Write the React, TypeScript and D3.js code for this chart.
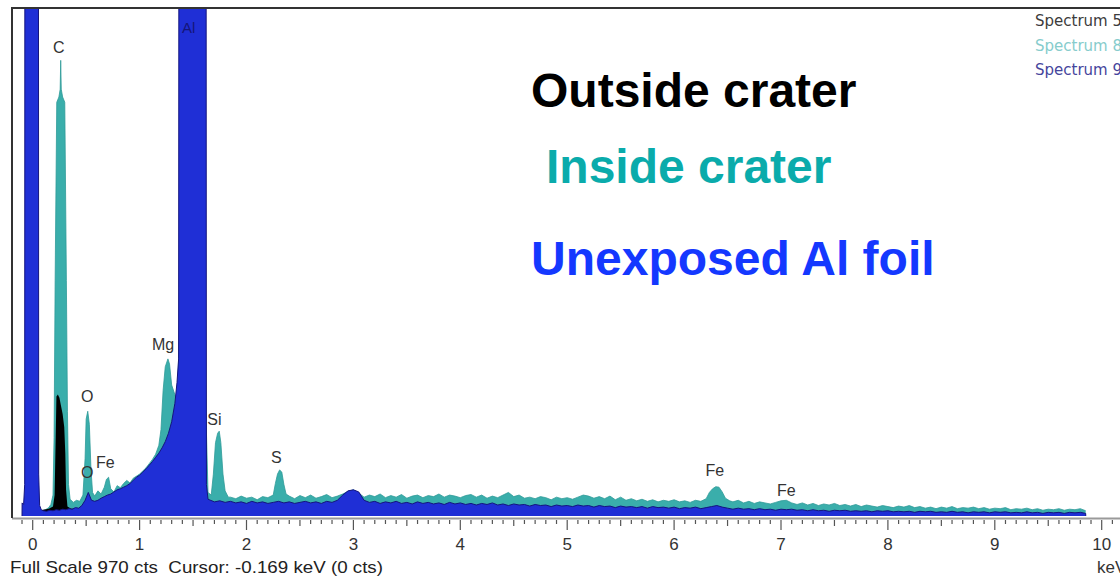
import React from 'react';
import * as d3 from 'd3';

const W = 1120;
const H = 576;

// x axis ticks (keV)
const majorTicks = [0, 1, 2, 3, 4, 5, 6, 7, 8, 9, 10];
const fullScaleCts = 970;

// Spectrum "Inside crater" (teal) : [keV, counts]
const insideCrater: [number, number][] = [
  [-0.09, 3], [-0.05, 10], [0.0, 15], [0.05, 12], [0.08, 10], [0.12, 12], [0.15, 16], [0.17, 22], [0.19, 40],
  [0.2, 150], [0.21, 450], [0.225, 790], [0.245, 800], [0.257, 815], [0.262, 870], [0.267, 815], [0.28, 800],
  [0.3, 790], [0.315, 450], [0.325, 200], [0.335, 60], [0.35, 32], [0.38, 26], [0.41, 30], [0.44, 28], [0.47, 40],
  [0.49, 110], [0.5, 185], [0.515, 200], [0.53, 175], [0.545, 90], [0.56, 45], [0.58, 38], [0.61, 48], [0.64, 42],
  [0.67, 55], [0.69, 70], [0.71, 74], [0.73, 52], [0.76, 46], [0.79, 58], [0.82, 54], [0.85, 62], [0.88, 68],
  [0.91, 63], [0.94, 72], [0.97, 76], [1.0, 80], [1.03, 86], [1.06, 92], [1.09, 100], [1.12, 108], [1.15, 118],
  [1.18, 135], [1.2, 165], [1.22, 240], [1.24, 285], [1.265, 300], [1.28, 290], [1.3, 250], [1.32, 238],
  [1.34, 225], [1.36, 260], [1.4, 600], [1.6, 600], [1.62, 200], [1.64, 45], [1.67, 40], [1.69, 80], [1.71, 140],
  [1.73, 158], [1.745, 162], [1.76, 140], [1.78, 80], [1.8, 48], [1.83, 36],
  [1.85, 36], [1.9, 33], [1.95, 38], [2.0, 34], [2.05, 36], [2.1, 31], [2.15, 37], [2.2, 35], [2.25, 40],
  [2.27, 62], [2.29, 80], [2.31, 88], [2.33, 84], [2.35, 60], [2.37, 42], [2.4, 38], [2.45, 33], [2.5, 39],
  [2.55, 35], [2.6, 40], [2.65, 34], [2.7, 37], [2.75, 41], [2.8, 35], [2.85, 38], [2.9, 42], [2.95, 47],
  [3.0, 50], [3.05, 44], [3.1, 36], [3.15, 40], [3.2, 37], [3.25, 42], [3.3, 35], [3.35, 39], [3.4, 36],
  [3.45, 41], [3.5, 34], [3.55, 38], [3.6, 40], [3.65, 35], [3.7, 39], [3.75, 37], [3.8, 42], [3.85, 36],
  [3.9, 40], [3.95, 38], [4.0, 35], [4.05, 39], [4.1, 41], [4.15, 36], [4.2, 40], [4.25, 34], [4.3, 38],
  [4.35, 35], [4.4, 40], [4.45, 45], [4.5, 37], [4.55, 40], [4.6, 34], [4.65, 36], [4.7, 33], [4.75, 37],
  [4.8, 35], [4.85, 31], [4.9, 36], [4.95, 33], [5.0, 35], [5.05, 32], [5.1, 36], [5.15, 40], [5.2, 38],
  [5.25, 34], [5.3, 37], [5.35, 33], [5.4, 38], [5.45, 31], [5.5, 36], [5.55, 30], [5.6, 33], [5.65, 29],
  [5.7, 32], [5.75, 28], [5.8, 31], [5.85, 27], [5.9, 30], [5.95, 28], [6.0, 31], [6.05, 27], [6.1, 29],
  [6.15, 26], [6.2, 30], [6.25, 28], [6.3, 33], [6.33, 45], [6.36, 52], [6.39, 56], [6.42, 55], [6.45, 46],
  [6.48, 34], [6.52, 29], [6.55, 27], [6.6, 30], [6.65, 25], [6.7, 28], [6.75, 24], [6.8, 27], [6.85, 25],
  [6.9, 23], [6.95, 26], [7.0, 29], [7.05, 30], [7.1, 25], [7.15, 22], [7.2, 25], [7.25, 21], [7.3, 24],
  [7.35, 20], [7.4, 23], [7.45, 21], [7.5, 24], [7.55, 20], [7.6, 22], [7.65, 19], [7.7, 22], [7.75, 18],
  [7.8, 21], [7.85, 19], [7.9, 17], [7.95, 20], [8.0, 18], [8.05, 16], [8.1, 19], [8.15, 17], [8.2, 20],
  [8.25, 16], [8.3, 18], [8.35, 15], [8.4, 17], [8.45, 14], [8.5, 17], [8.55, 15], [8.6, 18], [8.65, 14],
  [8.7, 16], [8.75, 15], [8.8, 17], [8.85, 14], [8.9, 16], [8.95, 13], [9.0, 15], [9.05, 14], [9.1, 16],
  [9.15, 12], [9.2, 14], [9.25, 13], [9.3, 15], [9.35, 12], [9.4, 14], [9.45, 11], [9.5, 13], [9.55, 12],
  [9.6, 14], [9.65, 11], [9.7, 13], [9.75, 12], [9.8, 14], [9.85, 10],
];

// Spectrum "Outside crater" (black) : [keV, counts]
const outsideCrater: [number, number][] = [
  [0.05, 10], [0.1, 12], [0.15, 14], [0.19, 18], [0.205, 40], [0.215, 150], [0.222, 228], [0.235, 232],
  [0.25, 226], [0.265, 210], [0.28, 195], [0.295, 170], [0.305, 120], [0.312, 50], [0.325, 18], [0.36, 14],
  [0.45, 15], [0.55, 16], [0.6, 16],
];

// Spectrum "Unexposed Al foil" (blue) : [keV, counts]
const unexposedAl: [number, number][] = [
  [-0.1, 0], [-0.099, 25], [-0.085, 22], [-0.075, 60], [-0.072, 2000], [0.052, 2000], [0.056, 80], [0.065, 20],
  [0.08, 12], [0.1, 10], [0.13, 9], [0.16, 11], [0.19, 10], [0.22, 12], [0.25, 11], [0.28, 13], [0.31, 12],
  [0.34, 14], [0.37, 13], [0.4, 16], [0.43, 15], [0.46, 20], [0.49, 30], [0.52, 45], [0.55, 30], [0.58, 28],
  [0.61, 30], [0.64, 34], [0.67, 37], [0.7, 40], [0.73, 42], [0.76, 46], [0.79, 50], [0.82, 52], [0.85, 55],
  [0.88, 58], [0.91, 62], [0.94, 68], [0.97, 74], [1.0, 78], [1.03, 84], [1.06, 90], [1.09, 97], [1.12, 104],
  [1.15, 112], [1.18, 120], [1.21, 130], [1.24, 142], [1.27, 158], [1.3, 180], [1.33, 215], [1.35, 255],
  [1.365, 300], [1.37, 2000], [1.62, 2000], [1.625, 60], [1.64, 32],
  [1.7, 27], [1.75, 29], [1.8, 26], [1.85, 28], [1.9, 25], [1.95, 27], [2.0, 24], [2.05, 28], [2.1, 25],
  [2.15, 27], [2.2, 24], [2.25, 26], [2.3, 28], [2.35, 25], [2.4, 27], [2.45, 24], [2.5, 26], [2.55, 28],
  [2.6, 25], [2.65, 27], [2.7, 24], [2.75, 28], [2.8, 26], [2.85, 30], [2.9, 40], [2.95, 48], [3.0, 50],
  [3.05, 46], [3.1, 30], [3.15, 26], [3.2, 28], [3.25, 24], [3.3, 27], [3.35, 25], [3.4, 28], [3.45, 24],
  [3.5, 26], [3.55, 23], [3.6, 27], [3.65, 24], [3.7, 26], [3.75, 23], [3.8, 25], [3.85, 22], [3.9, 26],
  [3.95, 23], [4.0, 25], [4.05, 22], [4.1, 24], [4.15, 21], [4.2, 24], [4.25, 22], [4.3, 25], [4.35, 21],
  [4.4, 23], [4.45, 20], [4.5, 23], [4.55, 21], [4.6, 22], [4.65, 19], [4.7, 22], [4.75, 20], [4.8, 21],
  [4.85, 18], [4.9, 21], [4.95, 19], [5.0, 20], [5.05, 18], [5.1, 21], [5.15, 19], [5.2, 20], [5.25, 17],
  [5.3, 20], [5.35, 18], [5.4, 19], [5.45, 16], [5.5, 19], [5.55, 17], [5.6, 18], [5.65, 16], [5.7, 18],
  [5.75, 15], [5.8, 18], [5.85, 16], [5.9, 17], [5.95, 15], [6.0, 17], [6.05, 14], [6.1, 16], [6.15, 15],
  [6.2, 17], [6.25, 14], [6.3, 16], [6.35, 18], [6.4, 20], [6.45, 17], [6.5, 15], [6.55, 13], [6.6, 15],
  [6.65, 13], [6.7, 14], [6.75, 12], [6.8, 14], [6.85, 12], [6.9, 13], [6.95, 11], [7.0, 13], [7.05, 12],
  [7.1, 13], [7.15, 11], [7.2, 12], [7.25, 10], [7.3, 12], [7.35, 10], [7.4, 11], [7.45, 9], [7.5, 11],
  [7.55, 10], [7.6, 11], [7.65, 9], [7.7, 10], [7.75, 9], [7.8, 10], [7.85, 8], [7.9, 10], [7.95, 9],
  [8.0, 10], [8.05, 8], [8.1, 9], [8.15, 8], [8.2, 9], [8.25, 7], [8.3, 9], [8.35, 8], [8.4, 9], [8.45, 7],
  [8.5, 8], [8.55, 7], [8.6, 9], [8.65, 7], [8.7, 8], [8.75, 6], [8.8, 8], [8.85, 7], [8.9, 8], [8.95, 6],
  [9.0, 8], [9.05, 7], [9.1, 8], [9.15, 6], [9.2, 7], [9.25, 6], [9.3, 8], [9.35, 6], [9.4, 7], [9.45, 5],
  [9.5, 7], [9.55, 6], [9.6, 7], [9.65, 5], [9.7, 7], [9.75, 6], [9.8, 7], [9.85, 5], [9.851, 0],
];

// Element peak labels: [text, keV, counts]
const peakLabels: [string, number, number][] = [
  ['C', 0.245, 884],
  ['O', 0.51, 218],
  ['O', 0.51, 72],
  ['Fe', 0.68, 92],
  ['Mg', 1.22, 317],
  ['Si', 1.7, 174],
  ['S', 2.28, 101],
  ['Fe', 6.38, 76],
  ['Fe', 7.05, 38],
];
const alLabel: [string, number, number] = ['Al', 1.46, 922];

const annotationTexts = ['Outside crater', 'Inside crater', 'Unexposed Al foil'];
const legendTexts = ['Spectrum 5', 'Spectrum 8', 'Spectrum 9'];
const statusText = 'Full Scale 970 cts  Cursor: -0.169 keV (0 cts)';

export default function App() {
  const x = d3.scaleLinear().domain([0, 10]).range([32.7, 1101.7]);
  const y = d3.scaleLinear().domain([0, fullScaleCts]).range([516, 8]);

  const area = d3
    .area<[number, number]>()
    .x((d) => x(d[0]))
    .y0(y(0))
    .y1((d) => y(d[1]));
  const line = d3
    .line<[number, number]>()
    .x((d) => x(d[0]))
    .y((d) => y(d[1]));

  const minorTicks = d3.range(-1, 102).map((i) => i / 10);

  const teal = '#3aaeab';
  const blue = '#1f2fd6';
  const font = 'Liberation Sans, Arial, sans-serif';

  return (
    <div style={{ position: 'fixed', left: 0, top: 0, width: W, height: H, background: '#fff' }}>
      <svg width={W} height={H} style={{ display: 'block' }}>
        <defs>
          <clipPath id="plotClip">
            <rect x={13} y={9} width={W - 13} height={y(0) - 9 + 1} />
          </clipPath>
        </defs>
        <rect x={0} y={0} width={W} height={H} fill="#fff" />

        {/* axis base line */}
        <line x1={12} x2={W} y1={518.5} y2={518.5} stroke="#9a9a9a" strokeWidth={2} />

        <g clipPath="url(#plotClip)">
          <path d={area(insideCrater) || ''} fill={teal} />
          <path d={line(insideCrater) || ''} fill="none" stroke="#2f9a98" strokeWidth={0.8} />
          <path d={area(outsideCrater) || ''} fill="#000" />
          <path d={area(unexposedAl) || ''} fill={blue} />
          <path d={line(unexposedAl) || ''} fill="none" stroke="#14147e" strokeWidth={1} />
        </g>

        {/* frame */}
        <line x1={12} x2={W} y1={8} y2={8} stroke="#333" strokeWidth={2} />
        <line x1={12} x2={12} y1={7} y2={518} stroke="#333" strokeWidth={2} />

        {/* ticks */}
        {minorTicks.map((t) => {
          const isMajor = Math.abs(t - Math.round(t)) < 1e-6;
          const isHalf = Math.abs(t * 2 - Math.round(t * 2)) < 1e-6;
          const len = isMajor ? 10 : isHalf ? 6 : 4;
          return (
            <line
              key={t}
              x1={x(t)}
              x2={x(t)}
              y1={520}
              y2={520 + len}
              stroke="#555"
              strokeWidth={1.2}
            />
          );
        })}
        {majorTicks.map((t) => (
          <text
            key={t}
            x={x(t)}
            y={550}
            textAnchor="middle"
            fontFamily={font}
            fontSize={17}
            fill="#333"
          >
            {t}
          </text>
        ))}
        <text x={1097} y={573} fontFamily={font} fontSize={17} fill="#333">
          keV
        </text>
        <text
          x={10}
          y={573}
          fontFamily={font}
          fontSize={17}
          fill="#222"
          textLength={373}
          lengthAdjust="spacingAndGlyphs"
          style={{ whiteSpace: 'pre' }}
        >
          {statusText}
        </text>

        {/* peak labels */}
        {peakLabels.map(([t, k, c], i) => (
          <text
            key={i}
            x={x(k)}
            y={y(c)}
            textAnchor="middle"
            fontFamily={font}
            fontSize={16}
            fill="#333"
          >
            {t}
          </text>
        ))}
        <text
          x={x(alLabel[1])}
          y={y(alLabel[2])}
          textAnchor="middle"
          fontFamily={font}
          fontSize={15}
          fill="#15157a"
        >
          {alLabel[0]}
        </text>

        {/* annotations */}
        <text x={531} y={107} fontFamily={font} fontWeight="bold" fontSize={48} fill="#000">
          {annotationTexts[0]}
        </text>
        <text x={546} y={183} fontFamily={font} fontWeight="bold" fontSize={48} fill="#0aabab">
          {annotationTexts[1]}
        </text>
        <text x={531} y={275} fontFamily={font} fontWeight="bold" fontSize={48} fill="#1438ff">
          {annotationTexts[2]}
        </text>

        {/* legend */}
        {legendTexts.map((t, i) => (
          <text
            key={i}
            x={1035}
            y={26 + i * 24.5}
            fontFamily="DejaVu Sans, sans-serif"
            fontSize={15}
            fill={['#3c3c3c', '#86cccc', '#45459c'][i]}
          >
            {t}
          </text>
        ))}
      </svg>
    </div>
  );
}
